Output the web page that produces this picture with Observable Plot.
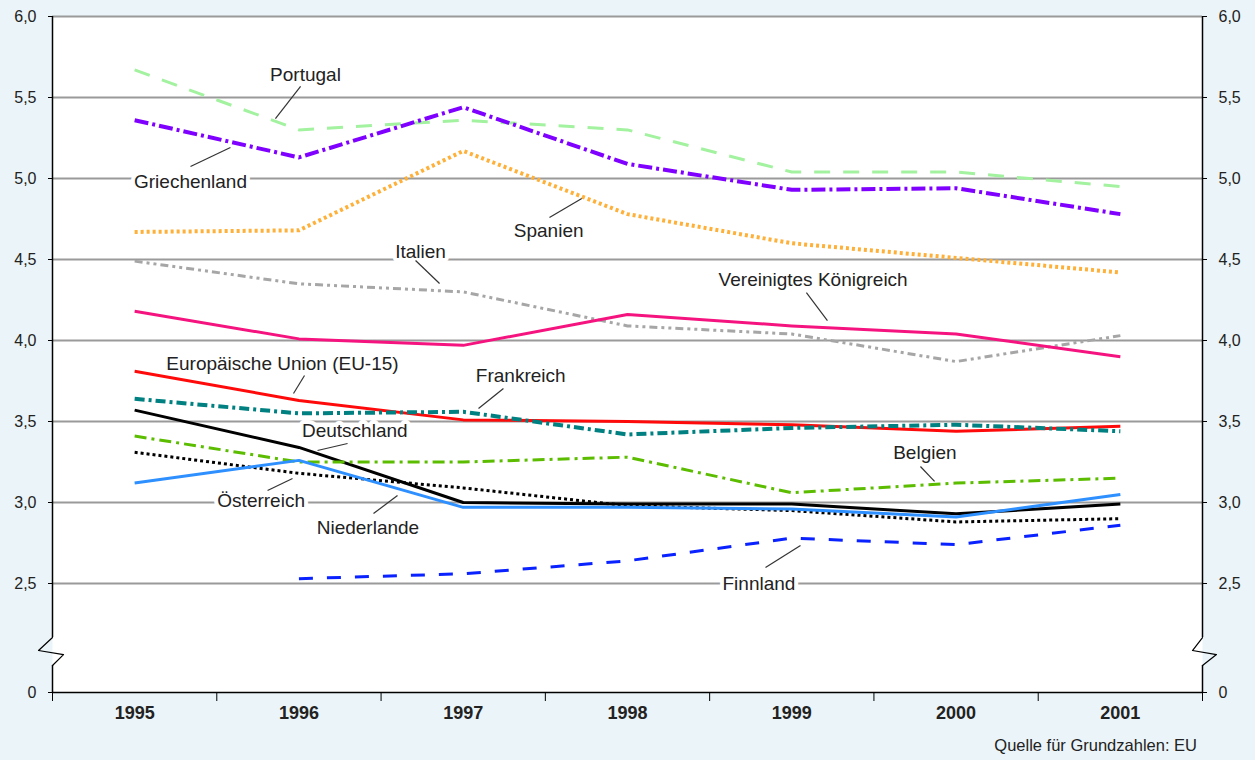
<!DOCTYPE html>
<html><head><meta charset="utf-8">
<script src="https://cdn.jsdelivr.net/npm/d3@7"></script>
<script src="https://cdn.jsdelivr.net/npm/@observablehq/plot@0.6"></script>
<style>
html,body{margin:0;padding:0;background:#ebf4f8;}
#chart{width:1255px;height:760px;position:relative;overflow:hidden;}
#chart svg{display:block;background:transparent;}
#caption{position:absolute;right:58px;top:736px;font:16.5px "Liberation Sans",Arial,sans-serif;color:#222;}
</style></head><body><div id="chart"><div id="caption">Quelle für Grundzahlen: EU</div></div>
<script>
const years = [1995, 1996, 1997, 1998, 1999, 2000, 2001];
const yTicks = [0, 2.5, 3, 3.5, 4, 4.5, 5, 5.5, 6];
const gridValues = [2.5, 3, 3.5, 4, 4.5, 5, 5.5, 6];
const halfYears = [1994.5, 1995.5, 1996.5, 1997.5, 1998.5, 1999.5, 2000.5, 2001.5];

const portugal      = [5.67, 5.30, 5.36, 5.30, 5.04, 5.04, 4.95];
const griechenland  = [5.36, 5.13, 5.44, 5.09, 4.93, 4.94, 4.78];
const spanien       = [4.67, 4.68, 5.17, 4.78, 4.60, 4.51, 4.42];
const italien       = [4.49, 4.35, 4.30, 4.09, 4.04, 3.87, 4.03];
const vk            = [4.18, 4.01, 3.97, 4.16, 4.09, 4.04, 3.90];
const eu15          = [3.81, 3.63, 3.51, 3.50, 3.48, 3.44, 3.47];
const frankreich    = [3.64, 3.55, 3.56, 3.42, 3.46, 3.48, 3.44];
const deutschland   = [3.57, 3.34, 3.00, 2.99, 2.99, 2.93, 2.99];
const belgien       = [3.41, 3.25, 3.25, 3.28, 3.06, 3.12, 3.15];
const oesterreich   = [3.31, 3.18, 3.09, 2.98, 2.95, 2.88, 2.90];
const niederlande   = [3.12, 3.26, 2.97, 2.97, 2.96, 2.91, 3.05];
const finnland      = [null, 2.53, 2.56, 2.64, 2.78, 2.74, 2.86];

const seriesNames = ["Portugal","Griechenland","Spanien","Italien","Vereinigtes Königreich","Europäische Union (EU-15)","Frankreich","Deutschland","Belgien","Österreich","Niederlande","Finnland"];
const seriesValues = [portugal, griechenland, spanien, italien, vk, eu15, frankreich, deutschland, belgien, oesterreich, niederlande, finnland];

// annotation label anchors (data units) and leader lines
const labelX = [1996.04, 1995.34, 1997.52, 1996.74, 1999.13, 1995.90, 1997.35, 1996.34, 1999.81, 1995.77, 1996.42, 1998.80];
const labelY = [5.642, 4.981, 4.679, 4.549, 4.377, 3.858, 3.784, 3.444, 3.309, 3.012, 2.846, 2.50];
const leaderFrom = [[1996.01,5.568],[1995.34,5.074],[1997.525,4.759],[1996.71,4.494],[1999.089,4.296],[1996.034,3.784],[1997.245,3.704],[1996.296,3.364],[1999.783,3.222],[1995.809,3.074],[1996.454,2.932],[1998.84,2.599]];
const leaderTo   = [[1995.857,5.370],[1995.583,5.191],[1997.732,4.883],[1996.856,4.352],[1999.217,4.123],[1995.967,3.673],[1997.093,3.580],[1996.113,3.321],[1999.869,3.130],[1995.961,3.148],[1996.60,3.043],[1999.053,2.735]];

// axis-break zigzag points (data units)
const breakLeft  = [[1994.5,1.26],[1994.415,0.963],[1994.567,0.87],[1994.5,0.62]];
const breakRight = [[2001.5,1.26],[2001.439,0.963],[2001.585,0.87],[2001.5,0.62]];

const styles = {
  "Portugal": {stroke:"#a3f2a0", dash:"16,13", w:3},
  "Griechenland": {stroke:"#7f00ff", dash:"14,4,3,4", w:4},
  "Spanien": {stroke:"#ffb038", dash:"3,3", w:4},
  "Italien": {stroke:"#a6a6a6", dash:"8,4,3,4,3,4", w:3},
  "Vereinigtes Königreich": {stroke:"#f5147f", dash:null, w:3},
  "Europäische Union (EU-15)": {stroke:"#ff0a0a", dash:null, w:3},
  "Frankreich": {stroke:"#008080", dash:"10,4,3,4", w:4},
  "Deutschland": {stroke:"#000000", dash:null, w:3},
  "Belgien": {stroke:"#5cbd00", dash:"12,5,3,5", w:3},
  "Österreich": {stroke:"#000000", dash:"3,3", w:3},
  "Niederlande": {stroke:"#2e8fff", dash:null, w:3},
  "Finnland": {stroke:"#0a22ff", dash:"14,14", w:3}
};

const fmt = d => d === 0 ? "0" : d.toFixed(1).replace(".", ",");
const labels = seriesNames.map((name, i) => ({text: name, x: labelX[i], y: labelY[i]}));
const leaders = seriesNames.map((name, i) => ({x1: leaderFrom[i][0], y1: leaderFrom[i][1], x2: leaderTo[i][0], y2: leaderTo[i][1]}));
const toPts = arr => arr.map(([x, y]) => ({x, y}));

const lineMarks = seriesNames.map((name, i) => {
  const s = styles[name];
  const data = years.map((yr, j) => ({year: yr, value: seriesValues[i][j]}));
  return Plot.line(data, {
    x: "year", y: "value", stroke: s.stroke, strokeWidth: s.w,
    strokeDasharray: s.dash || undefined, strokeLinecap: "butt", strokeLinejoin: "round"
  });
});

const font = "Liberation Sans, Arial, sans-serif";
const chart = Plot.plot({
  width: 1255, height: 735,
  marginLeft: 52, marginRight: 53, marginTop: 16, marginBottom: 43,
  style: {fontFamily: font, background: "transparent", color: "#222"},
  x: {domain: [1994.5, 2001.5]},
  y: {type: "linear", domain: [0, 2.5, 6], range: [692, 583, 16]},
  marks: [
    Plot.frame({fill: "white", stroke: null}),
    Plot.ruleY(gridValues, {stroke: "#9a9a9a", strokeWidth: 2}),
    Plot.text(labels, {x: "x", y: "y", text: "text", fontSize: 19, fill: "#222", stroke: "white", strokeWidth: 8}),
    Plot.link(leaders, {x1: "x1", y1: "y1", x2: "x2", y2: "y2", stroke: "#333", strokeWidth: 1.2}),
    ...lineMarks,
    Plot.ruleY([0], {stroke: "black", strokeWidth: 1.5}),
    Plot.ruleX([1994.5, 2001.5], {y1: 1.26, y2: 6, stroke: "black", strokeWidth: 1.5}),
    Plot.ruleX([1994.5, 2001.5], {y1: 0, y2: 0.62, stroke: "black", strokeWidth: 1.5}),
    Plot.line(toPts(breakLeft), {x: "x", y: "y", stroke: "black", strokeWidth: 1.2}),
    Plot.line(toPts(breakRight), {x: "x", y: "y", stroke: "black", strokeWidth: 1.2}),
    Plot.axisY(yTicks, {anchor: "left", tickSize: 4, tickPadding: 12, tickFormat: fmt, fontSize: 16, label: null, stroke: "black"}),
    Plot.axisY(yTicks, {anchor: "right", tickSize: 4, tickPadding: 12, tickFormat: fmt, fontSize: 16, label: null, stroke: "black"}),
    Plot.axisX(halfYears, {tickSize: 9, tickFormat: () => "", label: null, stroke: "black"}),
    Plot.axisX(years, {tickSize: 0, tickPadding: 14, tickFormat: d => String(d), fontSize: 18, fontWeight: "bold", label: null})
  ]
});
document.getElementById("chart").prepend(chart);
</script>
</body></html>
